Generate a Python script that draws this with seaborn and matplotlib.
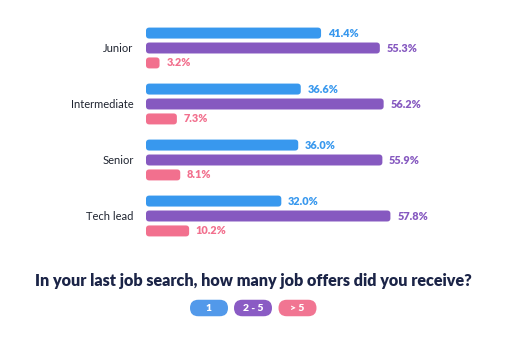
import matplotlib
matplotlib.use("Agg")
import matplotlib.pyplot as plt
from matplotlib.patches import FancyBboxPatch
import seaborn as sns
import pandas as pd

levels = ["Junior", "Intermediate", "Senior", "Tech lead"]
offers = ["1", "2 - 5", "> 5"]
v_one = [41.4, 36.6, 36.0, 32.0]
v_two_five = [55.3, 56.2, 55.9, 57.8]
v_more = [3.2, 7.3, 8.1, 10.2]
title = "In your last job search, how many job offers did you receive?"

colors = ["#3898EE", "#8659C0", "#F2708E"]
legend_colors = ["#5299EA", "#8A5BC4", "#F17592"]

rows = []
for i, lv in enumerate(levels):
    for o, vals in zip(offers, [v_one, v_two_five, v_more]):
        rows.append({"level": lv, "offers": o, "pct": vals[i]})
df = pd.DataFrame(rows)

sns.set_theme(style="white")
plt.rcParams["font.family"] = ["Lato", "DejaVu Sans"]

W, H = 506, 340
fig = plt.figure(figsize=(W / 100, H / 100), dpi=100)
fig.patch.set_facecolor("white")
ax = fig.add_axes([146 / W, (H - 244) / H, 296 / W, 224 / H])

sns.barplot(data=df, y="level", x="pct", hue="offers", hue_order=offers,
            order=levels, palette=colors, orient="h", gap=0.265, width=0.8,
            legend=False, ax=ax, saturation=1)
ax.set_xlim(0, 70)
ax.set_ylim(3.5, -0.5)

# Replace bars with rounded versions
xr = 0.75
for p in list(ax.patches):
    x, y = p.get_x(), p.get_y()
    w, h = p.get_width(), p.get_height()
    c = p.get_facecolor()
    p.set_visible(False)
    rb = FancyBboxPatch((x, y), w, h,
                        boxstyle=f"round,pad=0,rounding_size={min(xr, w/2)}",
                        mutation_aspect=0.075, facecolor=c, edgecolor="none")
    ax.add_patch(rb)
    ax.text(x + w + 1.6, y + h / 2, f"{w:.1f}%", va="center", ha="left",
            color=c, fontsize=7.8, fontweight="heavy")

ax.set_xlabel("")
ax.set_ylabel("")
ax.set_xticks([])
ax.tick_params(axis="y", length=0, pad=9, labelsize=8, labelcolor="#1f2430")
for s in ax.spines.values():
    s.set_visible(False)

fig.text(253 / W, 1 - 281 / H, title, ha="center", va="center",
         fontsize=11.6, fontweight="heavy", color="#1B2447")

centers = [209, 253, 297.5]
for cx, lab, col in zip(centers, offers, legend_colors):
    pw, ph = 38, 16.5
    pill = FancyBboxPatch(((cx - pw / 2) / W, 1 - (308 + ph / 2) / H), pw / W, ph / H,
                          boxstyle="round,pad=0,rounding_size=%f" % (ph / 2 / W),
                          mutation_aspect=W / H, transform=fig.transFigure,
                          facecolor=col, edgecolor="none")
    fig.patches.append(pill)
    fig.text(cx / W, 1 - 308.5 / H, lab, ha="center", va="center",
             fontsize=7.5, fontweight="heavy", color="white")

fig.savefig("out.png", dpi=100)
